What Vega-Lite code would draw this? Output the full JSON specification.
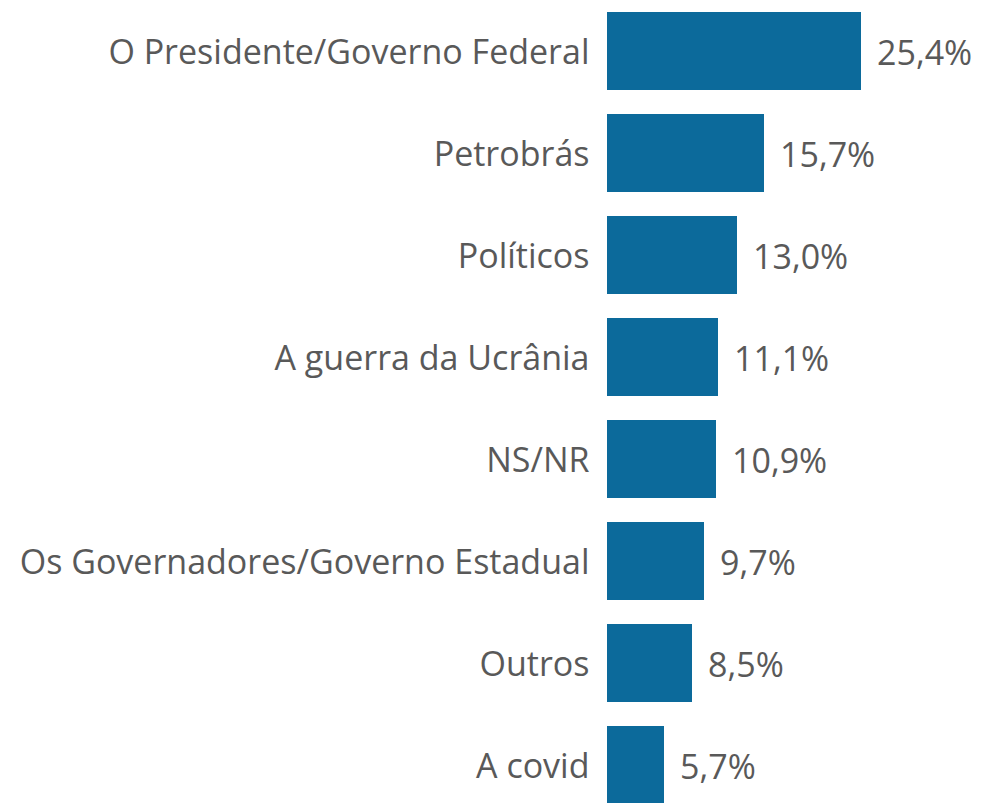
{
  "$schema": "https://vega.github.io/schema/vega-lite/v6.json",
  "autosize": "none",
  "width": 376,
  "height": 816,
  "padding": {"left": 607, "top": 0, "right": 0, "bottom": 0},
  "background": "#ffffff",
  "config": {
    "view": {"stroke": null},
    "locale": {"number": {"decimal": ",", "thousands": ".", "grouping": [3], "currency": ["R$", ""]}}
  },
  "data": {
    "values": [
      {"categoria": "O Presidente/Governo Federal", "valor": 0.254},
      {"categoria": "Petrobrás", "valor": 0.157},
      {"categoria": "Políticos", "valor": 0.130},
      {"categoria": "A guerra da Ucrânia", "valor": 0.111},
      {"categoria": "NS/NR", "valor": 0.109},
      {"categoria": "Os Governadores/Governo Estadual", "valor": 0.097},
      {"categoria": "Outros", "valor": 0.085},
      {"categoria": "A covid", "valor": 0.057}
    ]
  },
  "encoding": {
    "y": {
      "field": "categoria",
      "type": "nominal",
      "sort": null,
      "scale": {"paddingInner": 0.235, "paddingOuter": 0.1176},
      "axis": {
        "title": null,
        "ticks": false,
        "domain": false,
        "labelFont": "Open Sans",
        "labelFontSize": 34,
        "labelColor": "#595959",
        "labelPadding": 18,
        "labelOffset": 3,
        "labelLimit": 0
      }
    },
    "x": {
      "field": "valor",
      "type": "quantitative",
      "scale": {"domain": [0, 0.376], "nice": false},
      "axis": null
    }
  },
  "layer": [
    {"mark": {"type": "bar", "color": "#0C6A9B"}},
    {
      "mark": {"type": "text", "align": "left", "baseline": "middle", "dx": 16, "dy": 4, "font": "Open Sans", "fontSize": 34, "color": "#595959"},
      "encoding": {"text": {"field": "valor", "type": "quantitative", "format": ".1%"}}
    }
  ]
}
